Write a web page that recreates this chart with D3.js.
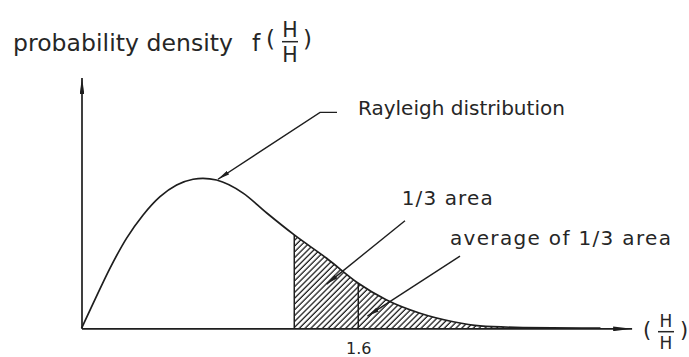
<!DOCTYPE html>
<html>
<head>
<meta charset="utf-8">
<script src="https://cdn.jsdelivr.net/npm/d3@7"></script>
<style>
  html, body { margin: 0; padding: 0; background: #fff; }
  svg { display: block; }
  text { font-family: "DejaVu Sans", sans-serif; fill: #262626; }
</style>
</head>
<body>
<svg id="chart" width="689" height="357"></svg>
<script>
// Wave height ratio H / H-mean and the Rayleigh probability density read along it
const heightRatio = [0, 0.068, 0.165, 0.261, 0.355, 0.454, 0.550, 0.645, 0.702, 0.781,
                     0.934, 1.071, 1.23, 1.417, 1.6, 1.764, 1.957, 2.149, 2.303, 2.552, 3.0];
const density     = [0, 0.127, 0.305, 0.457, 0.573, 0.667, 0.726, 0.755, 0.760, 0.751,
                     0.685, 0.584, 0.473, 0.355, 0.228, 0.143, 0.076, 0.033, 0.012, 0.004, 0.0005];

// Start of the highest third of waves and the mean height of that third
const thirdStart = 1.23;
const thirdMean = 1.6;
const tickValues = [thirdMean];

// Annotation texts, anchors and leader lines (data units)
const labelTexts = ["Rayleigh distribution", "1/3 area", "average of 1/3 area"];
const labelX = [1.598, 1.851, 2.130];
const labelY = [1.081, 0.625, 0.422];
const labelWidths = [207, 91, 221];
const leaders = [
  [[1.477, 1.094], [1.379, 1.094], [0.789, 0.755]],
  [[1.870, 0.545], [1.417, 0.224]],
  [[2.188, 0.366], [1.653, 0.062]]
];

const svg = d3.select("#chart");
const ink = "#1e1e1e";

const x = d3.scaleLinear().domain([0, 3.18]).range([81.5, 631.6]);
const y = d3.scaleLinear().domain([0, 1.27]).range([328.3, 77.6]);

const points = heightRatio.map((h, i) => [h, density[i]]);

const defs = svg.append("defs");

// slim dart-shaped arrowheads
function marker(id, len, half) {
  defs.append("marker")
    .attr("id", id)
    .attr("markerUnits", "userSpaceOnUse")
    .attr("viewBox", `0 ${-half} ${len} ${2 * half}`)
    .attr("refX", len).attr("refY", 0)
    .attr("markerWidth", len).attr("markerHeight", 2 * half)
    .attr("orient", "auto")
    .append("path")
    .attr("d", `M0,${-half}L${len},0L0,${half}Z`)
    .attr("fill", ink);
}
marker("arrowX", 19, 2.4);
marker("arrowY", 16, 2.4);
marker("arrowLead", 12, 2.2);

// diagonal hatching for the top third
const hatch = defs.append("pattern")
  .attr("id", "hatch")
  .attr("patternUnits", "userSpaceOnUse")
  .attr("width", 4.1).attr("height", 10)
  .attr("patternTransform", "rotate(45)");
hatch.append("line")
  .attr("x1", 1).attr("y1", 0).attr("x2", 1).attr("y2", 10)
  .attr("stroke", ink).attr("stroke-width", 1.3);

defs.append("clipPath").attr("id", "topThird")
  .append("rect")
  .attr("x", x(thirdStart)).attr("y", y.range()[1])
  .attr("width", x.range()[1] - x(thirdStart))
  .attr("height", y.range()[0] - y.range()[1]);

const curve = d3.curveMonotoneX;

// hatched area
svg.append("path")
  .datum(points)
  .attr("clip-path", "url(#topThird)")
  .attr("fill", "url(#hatch)")
  .attr("d", d3.area().x(d => x(d[0])).y0(y(0)).y1(d => y(d[1])).curve(curve));

// vertical bounds at the start of the top third and at its mean
[thirdStart, thirdMean].forEach(v => {
  const p = points.find(d => d[0] === v);
  svg.append("line")
    .attr("x1", x(v)).attr("x2", x(v))
    .attr("y1", y(0)).attr("y2", y(p[1]))
    .attr("stroke", ink).attr("stroke-width", 1.5);
});

// density curve
svg.append("path")
  .datum(points)
  .attr("fill", "none")
  .attr("stroke", ink)
  .attr("stroke-width", 1.7)
  .attr("d", d3.line().x(d => x(d[0])).y(d => y(d[1])).curve(curve));

// axes
const xAxis = svg.append("g")
  .attr("transform", `translate(0,${y(0)})`)
  .call(d3.axisBottom(x).tickValues(tickValues).tickSize(0).tickSizeOuter(0)
        .tickPadding(14).tickFormat(d3.format(".1f")));
xAxis.select(".domain").attr("stroke", ink).attr("stroke-width", 1.7)
  .attr("marker-end", "url(#arrowX)");
xAxis.selectAll(".tick text")
  .attr("font-family", "DejaVu Sans, sans-serif")
  .attr("font-size", 16).attr("fill", "#262626");

const yAxis = svg.append("g")
  .attr("transform", `translate(${x(0)},0)`)
  .call(d3.axisLeft(y).tickValues([]).tickSizeOuter(0));
yAxis.select(".domain").attr("stroke", ink).attr("stroke-width", 1.7)
  .attr("marker-end", "url(#arrowY)");

// leader lines
leaders.forEach(pts => {
  svg.append("path")
    .attr("d", d3.line().x(d => x(d[0])).y(d => y(d[1]))(pts))
    .attr("fill", "none").attr("stroke", ink).attr("stroke-width", 1.4)
    .attr("marker-end", "url(#arrowLead)");
});

// annotation labels
labelTexts.forEach((t, i) => {
  svg.append("text")
    .attr("x", x(labelX[i])).attr("y", y(labelY[i]))
    .attr("font-size", 20)
    .attr("textLength", labelWidths[i])
    .attr("lengthAdjust", "spacing")
    .text(t);
});

// fraction H / H drawn as stacked letters with a bar
function fraction(g, cx, barY, size, parenSize, parenLeft, parenRight, parenBase) {
  g.append("text").attr("x", parenLeft).attr("y", parenBase).attr("font-size", parenSize).text("(");
  g.append("text").attr("x", cx).attr("y", barY - 5).attr("font-size", size)
    .attr("text-anchor", "middle").text("H");
  g.append("line").attr("x1", cx - 8).attr("x2", cx + 8).attr("y1", barY).attr("y2", barY)
    .attr("stroke", "#262626").attr("stroke-width", 1.5);
  g.append("text").attr("x", cx).attr("y", barY + 5 + size * 0.73).attr("font-size", size)
    .attr("text-anchor", "middle").text("H");
  g.append("text").attr("x", parenRight).attr("y", parenBase).attr("font-size", parenSize).text(")");
}

// y-axis title
const title = svg.append("g");
title.append("text").attr("x", 13).attr("y", 50.7).attr("font-size", 23.5)
  .attr("textLength", 220).attr("lengthAdjust", "spacing").text("probability density");
title.append("text").attr("x", 252).attr("y", 50.7).attr("font-size", 23.5).text("f");
fraction(title, 290, 41.7, 20.5, 23, 266, 303, 47);

// x-axis title
const xTitle = svg.append("g");
fraction(xTitle, 666, 331.7, 17, 21, 643, 680, 337);
</script>
</body>
</html>
